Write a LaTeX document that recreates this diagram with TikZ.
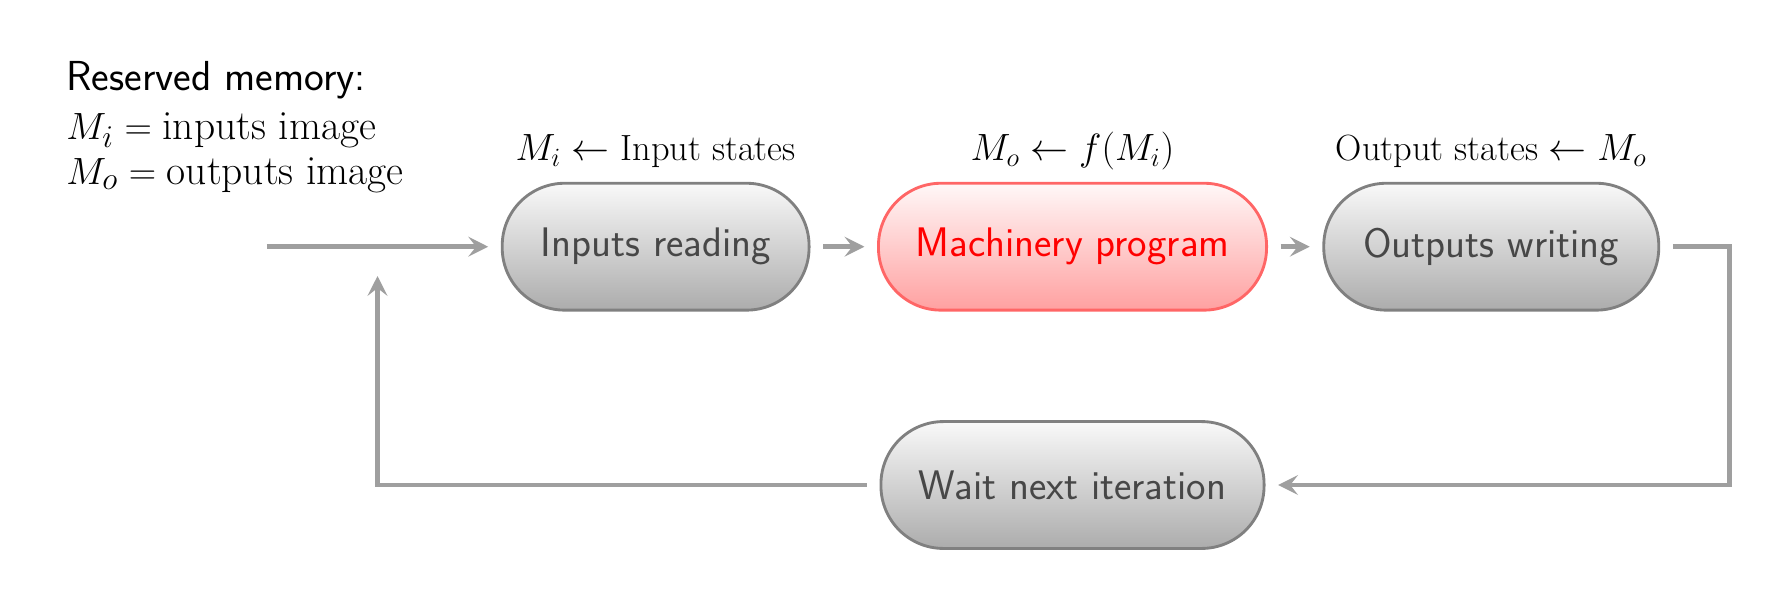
\documentclass[tikz,border=0pt]{standalone}
\usepackage{tikz}
\usetikzlibrary{arrows.meta,positioning}
\begin{document}
\begin{tikzpicture}[>={Stealth[length=9pt,width=9pt,inset=3.5pt]},font=\sffamily]
\tikzstyle{blk}=[draw=gray,line width=1.3pt,rounded corners=1cm,minimum height=2.03cm,outer sep=6.4pt,top color=gray!5,bottom color=gray!65,text=black!72,font=\sffamily\fontsize{18.8}{22}\selectfont]
\tikzstyle{hot}=[blk,draw=red!60,top color=red!3,bottom color=red!37,text=red]
\tikzstyle{lnk}=[->,draw=gray!75,line width=2pt]
\tikzstyle{lbl}=[anchor=base,font=\rmfamily\fontsize{16.6}{19}\selectfont]
\tikzstyle{mem}=[anchor=base west,inner sep=0pt,font=\rmfamily\fontsize{18.9}{22}\selectfont]
\useasboundingbox (0,0) rectangle (28.512,9.6);
% reserved memory
\node[mem,font=\sffamily\fontsize{19.1}{22}\selectfont] (res) at (1.056,8.16) {Reserved memory:};
\node[mem] (memi) at (1.056,7.37) {$M_i = \textrm{inputs image}$};
\node[mem] (memo) at (1.056,6.656) {$M_o = \textrm{outputs image}$};
% cycle
\node[blk,minimum width=4.91cm] (inp) at (10.49,5.653) {Inputs reading};
\node[hot,minimum width=6.21cm] (prog) at (17.16,5.653) {Machinery program};
\node[blk,minimum width=5.36cm] (outp) at (23.86,5.653) {Outputs writing};
\node[blk,minimum width=6.13cm] (wait) at (17.16,1.84) {Wait next iteration};
\node[lbl] (linp) at (10.49,7.03) {$M_i \leftarrow \textrm{Input states}$};
\node[lbl] (lprog) at (17.16,7.03) {$M_o \leftarrow f(M_i)$};
\node[lbl] (loutp) at (23.86,7.03) {$\textrm{Output states} \leftarrow M_o$};
\coordinate (start) at (4.27,5.653);
\coordinate (turn) at (27.67,1.84);
\coordinate (back) at (6.04,5.184);
\draw[lnk] (start) -- (inp.west);
\draw[lnk] (inp.east) -- (prog.west);
\draw[lnk] (prog.east) -- (outp.west);
\draw[lnk] (outp.east) -| (turn) -- (wait.east);
\draw[lnk] (wait.west) -| (back);
\end{tikzpicture}
\end{document}
